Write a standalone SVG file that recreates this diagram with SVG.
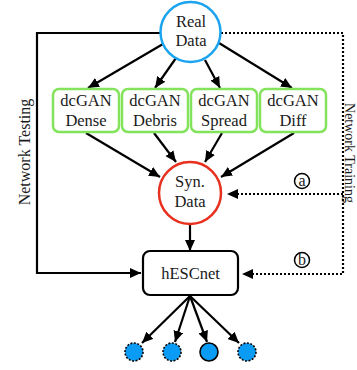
<svg xmlns="http://www.w3.org/2000/svg" width="357" height="370" viewBox="0 0 357 370">
<style>
text{font-family:"Liberation Serif","Times New Roman","DejaVu Serif",serif;fill:#1a1a1a}
.t{font-size:16.5px;text-anchor:middle}
.lbl{font-size:16px;text-anchor:middle}
.gan{fill:#fff;stroke:#84e35d;stroke-width:2.5}
.ln{fill:none;stroke:#000;stroke-width:2.2}
.dot{fill:none;stroke:#000;stroke-width:2.2;stroke-dasharray:2 2}
.out{fill:#0a9cf5;stroke:#000;stroke-width:1.6}
.dd{stroke-dasharray:2 1.5}
</style>
<defs>
<marker id="ah" markerUnits="userSpaceOnUse" markerWidth="12" markerHeight="10" refX="11" refY="5" orient="auto">
<path d="M0,0 L11,5 L0,10 z" fill="#000"/>
</marker>
</defs>
<g id="connectors">
<path class="ln" d="M160,33 H37 V273 H141" marker-end="url(#ah)"/>
<path class="dot" d="M221,33 H343 V274 H242" marker-end="url(#ah)"/>
<path class="dot" d="M343,194 H227" marker-end="url(#ah)"/>
<line class="ln" x1="163" y1="44" x2="88" y2="88" marker-end="url(#ah)"/>
<line class="ln" x1="176" y1="58" x2="155" y2="88" marker-end="url(#ah)"/>
<line class="ln" x1="205" y1="60" x2="220" y2="88" marker-end="url(#ah)"/>
<line class="ln" x1="219" y1="43" x2="292" y2="88" marker-end="url(#ah)"/>
<line class="ln" x1="86" y1="133" x2="160" y2="177" marker-end="url(#ah)"/>
<line class="ln" x1="154" y1="133" x2="176" y2="162" marker-end="url(#ah)"/>
<line class="ln" x1="222" y1="133" x2="205" y2="162" marker-end="url(#ah)"/>
<line class="ln" x1="294" y1="133" x2="221" y2="177" marker-end="url(#ah)"/>
<line class="ln" x1="190" y1="225" x2="190" y2="251" marker-end="url(#ah)"/>
<line class="ln" x1="190" y1="296" x2="142" y2="343" marker-end="url(#ah)"/>
<line class="ln" x1="190" y1="296" x2="175" y2="342" marker-end="url(#ah)"/>
<line class="ln" x1="190" y1="296" x2="207" y2="342" marker-end="url(#ah)"/>
<line class="ln" x1="190" y1="296" x2="239" y2="343" marker-end="url(#ah)"/>
</g>
<g id="real">
<circle cx="190.5" cy="32" r="30" fill="#fff" stroke="#1aa3ef" stroke-width="2.5"/>
<text class="t" x="191" y="27">Real</text>
<text class="t" x="191" y="46">Data</text>
</g>
<g id="dense">
<rect class="gan" x="53" y="89" width="66" height="43" rx="6"/>
<text class="t" x="86" y="106">dcGAN</text>
<text class="t" x="86" y="126">Dense</text>
</g>
<g id="debris">
<rect class="gan" x="122" y="89" width="66" height="43" rx="6"/>
<text class="t" x="155" y="106">dcGAN</text>
<text class="t" x="155" y="126">Debris</text>
</g>
<g id="spread">
<rect class="gan" x="191" y="89" width="66" height="43" rx="6"/>
<text class="t" x="224" y="106">dcGAN</text>
<text class="t" x="224" y="126">Spread</text>
</g>
<g id="diff">
<rect class="gan" x="260" y="89" width="66" height="43" rx="6"/>
<text class="t" x="293" y="106">dcGAN</text>
<text class="t" x="293" y="126">Diff</text>
</g>
<g id="syn">
<circle cx="190" cy="193" r="31" fill="#fff" stroke="#e8301f" stroke-width="2.5"/>
<text class="t" x="190" y="187">Syn.</text>
<text class="t" x="190" y="207">Data</text>
</g>
<g id="hescnet">
<rect x="143" y="251" width="95" height="44" rx="7" fill="#fff" stroke="#000" stroke-width="2.2"/>
<text class="t" x="190.5" y="279">hESCnet</text>
</g>
<g id="out1"><circle class="out dd" cx="134" cy="352" r="9"/></g>
<g id="out2"><circle class="out dd" cx="172" cy="352" r="9"/></g>
<g id="out3"><circle class="out" cx="209" cy="352" r="9"/></g>
<g id="out4"><circle class="out dd" cx="247" cy="352" r="9"/></g>
<g id="label-a">
<circle cx="302" cy="181" r="7.5" fill="#fff" stroke="#000" stroke-width="1.5"/>
<text class="lbl" x="302" y="185.5" font-size="14">a</text>
</g>
<g id="label-b">
<circle cx="302" cy="260" r="7.5" fill="#fff" stroke="#000" stroke-width="1.5"/>
<text class="lbl" x="302" y="264.5" font-size="14">b</text>
</g>
<text class="lbl" transform="translate(30,152) rotate(-90)">Network Testing</text>
<text class="lbl" transform="translate(345,153) rotate(90)" style="font-size:14px">Network Training</text>
</svg>
